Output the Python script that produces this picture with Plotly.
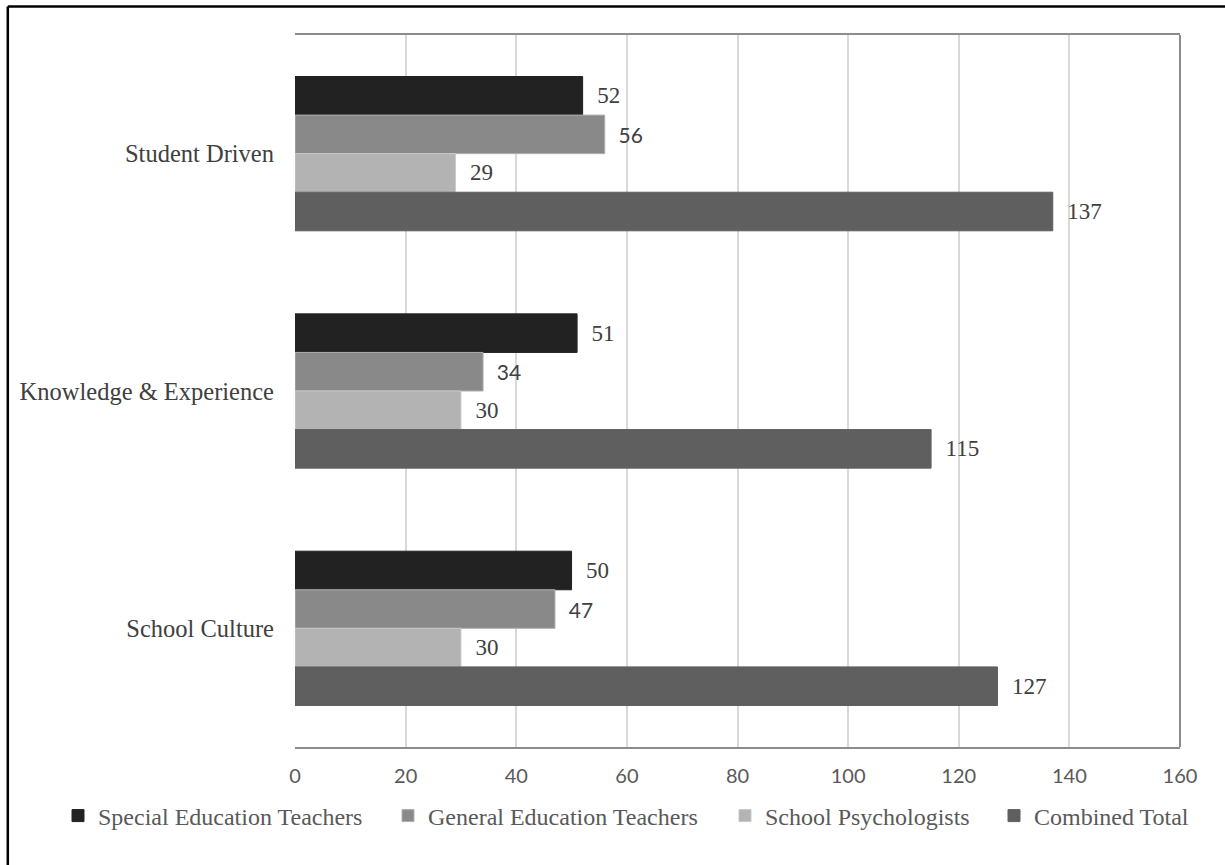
import plotly.graph_objects as go

categories = ["Student Driven", "Knowledge & Experience", "School Culture"]
series_names = ["Special Education Teachers", "General Education Teachers",
                "School Psychologists", "Combined Total"]
special_ed = [52, 51, 50]
general_ed = [56, 34, 47]
psychologists = [29, 30, 30]
combined = [137, 115, 127]
x_ticks = [0, 20, 40, 60, 80, 100, 120, 140, 160]

values = [special_ed, general_ed, psychologists, combined]
colors = ["#222222", "#898989", "#b3b3b3", "#5f5f5f"]
line_colors = ["#222222", "#b0b0b0", "#c8c8c8", "#5f5f5f"]
serif = "Liberation Serif, Times New Roman, serif"
sans = "Lato, Open Sans, sans-serif"
label_fonts = [
    dict(family=serif, size=23, color="#404040"),
    dict(family=sans, size=21, color="#404040"),
    dict(family=serif, size=23, color="#404040"),
    dict(family=serif, size=23, color="#404040"),
]
legend_ids = ["legend", "legend2", "legend3", "legend4"]
legend_text_px = [95, 425, 762, 1031]

fig = go.Figure()
for name, vals, c, lc, lf, lid in zip(series_names, values, colors, line_colors, label_fonts, legend_ids):
    fig.add_trace(go.Bar(
        y=categories, x=vals, name=name, orientation="h",
        marker=dict(color=c, line=dict(color=lc, width=1)),
        text=vals, texttemplate="\u00a0\u00a0%{x}", textposition="outside",
        textfont=lf, cliponaxis=False, legend=lid,
    ))

W, H = 1225, 865
L, R, T, B = 295, 45, 35, 118
pw, ph = W - L - R, H - T - B

def px(xp):
    return (xp - L) / pw

def py(yp):
    return (H - B - yp) / ph

legend_layout = {}
for lid, tx in zip(legend_ids, legend_text_px):
    legend_layout[lid] = dict(
        orientation="h", x=px(tx - 37), xanchor="left", y=py(816), yanchor="middle",
        font=dict(family=serif, size=24, color="#595959"),
        itemclick=False, itemwidth=30, bgcolor="rgba(0,0,0,0)")

fig.update_layout(
    width=W, height=H,
    margin=dict(l=L, r=R, t=T, b=B),
    paper_bgcolor="white", plot_bgcolor="white",
    barmode="group", bargap=0.35, bargroupgap=0,
    showlegend=True,
    **legend_layout,
    xaxis=dict(range=[0, 160], tickvals=x_ticks, showgrid=True, gridcolor="#d9d9d9", gridwidth=1.5,
               showline=True, linecolor="#8c8c8c", linewidth=2, mirror=True,
               zeroline=False, ticks="", tickfont=dict(family=sans, size=20, color="#595959"),
               ticklabelstandoff=10),
    yaxis=dict(categoryorder="array", categoryarray=categories, autorange="reversed",
               showline=False, showgrid=False, ticks="",
               tickfont=dict(family=serif, size=24.5, color="#404040"),
               ticklabelstandoff=20),
    shapes=[
        dict(type="line", xref="paper", yref="paper", x0=1, x1=1, y0=0, y1=1,
             line=dict(color="#8c8c8c", width=2)),
        dict(type="line", xref="paper", yref="paper", x0=px(7.8), x1=px(1240), y0=py(6.5), y1=py(6.5),
             line=dict(color="black", width=2.5)),
        dict(type="line", xref="paper", yref="paper", x0=px(7.8), x1=px(7.8), y0=py(6.5), y1=py(880),
             line=dict(color="black", width=2.5)),
    ],
)

fig.write_html("out.html", config={"displayModeBar": False},
               post_script="document.body.style.margin='0';")
